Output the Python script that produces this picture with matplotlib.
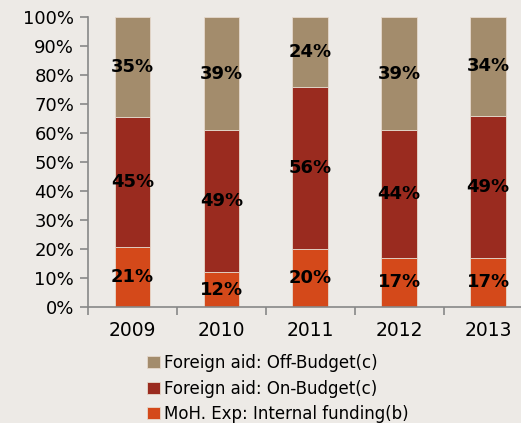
import matplotlib
matplotlib.use("Agg")
import matplotlib.pyplot as plt
import numpy as np
from matplotlib.ticker import PercentFormatter

years = ["2009", "2010", "2011", "2012", "2013"]
internal = [21, 12, 20, 17, 17]
on_budget = [45, 49, 56, 44, 49]
off_budget = [35, 39, 24, 39, 34]
series_names = ["MoH. Exp: Internal funding(b)", "Foreign aid: On-Budget(c)", "Foreign aid: Off-Budget(c)"]
colors = ["#D4491A", "#9A2B1F", "#A38C6C"]

bg = "#EDEAE6"
plt.rcParams['font.family'] = ['DejaVu Sans']
fig = plt.figure(figsize=(5.21, 4.23), dpi=100, facecolor=bg)
ax = fig.add_axes([88/521, 116/423, 1 - 88/521, 290/423])
ax.set_facecolor(bg)

data = np.array([internal, on_budget, off_budget], dtype=float)
totals = data.sum(axis=0)
norm = data / totals * 100
x = np.arange(len(years))
bottom = np.zeros(len(years))
handles = []
for i in range(3):
    b = ax.bar(x, norm[i], 0.4, bottom=bottom, color=colors[i], edgecolor="#E6D9CC", linewidth=0.6, label=series_names[i])
    handles.append(b)
    for j in range(len(years)):
        ax.text(x[j], bottom[j] + norm[i][j] / 2, f"{int(data[i][j])}%", ha="center", va="center",
                fontsize=13, fontweight="bold", color="black")
    bottom += norm[i]

ax.set_yticks(np.arange(0, 101, 10))
ax.yaxis.set_major_formatter(PercentFormatter(decimals=0))
ax.set_xticks(x)
ax.set_xticklabels(years)
ax.set_xticks(np.arange(-0.5, 4.6, 1), minor=True)
ax.set_ylim(0, 100)
ax.set_xlim(-0.5, 4.37)
ax.tick_params(axis="x", which="major", length=0, pad=10, labelsize=13.5)
ax.tick_params(axis="x", which="minor", length=6, direction="out", color="#888888", width=1.2)
ax.tick_params(axis="y", length=6, direction="out", color="#888888", width=1.2, labelsize=13, pad=4)
for s in ["top", "right"]:
    ax.spines[s].set_visible(False)
for s in ["left", "bottom"]:
    ax.spines[s].set_color("#888888")
    ax.spines[s].set_linewidth(1.2)

leg = fig.legend([handles[2], handles[1], handles[0]],
                 [series_names[2], series_names[1], series_names[0]],
                 loc="upper left", bbox_to_anchor=(147/521, 1 - 354/423),
                 frameon=False, fontsize=12, handlelength=0.75, handleheight=0.75,
                 handletextpad=0.3, labelspacing=0.45, borderaxespad=0, borderpad=0)

fig.savefig("out.png", dpi=100, facecolor=bg)
